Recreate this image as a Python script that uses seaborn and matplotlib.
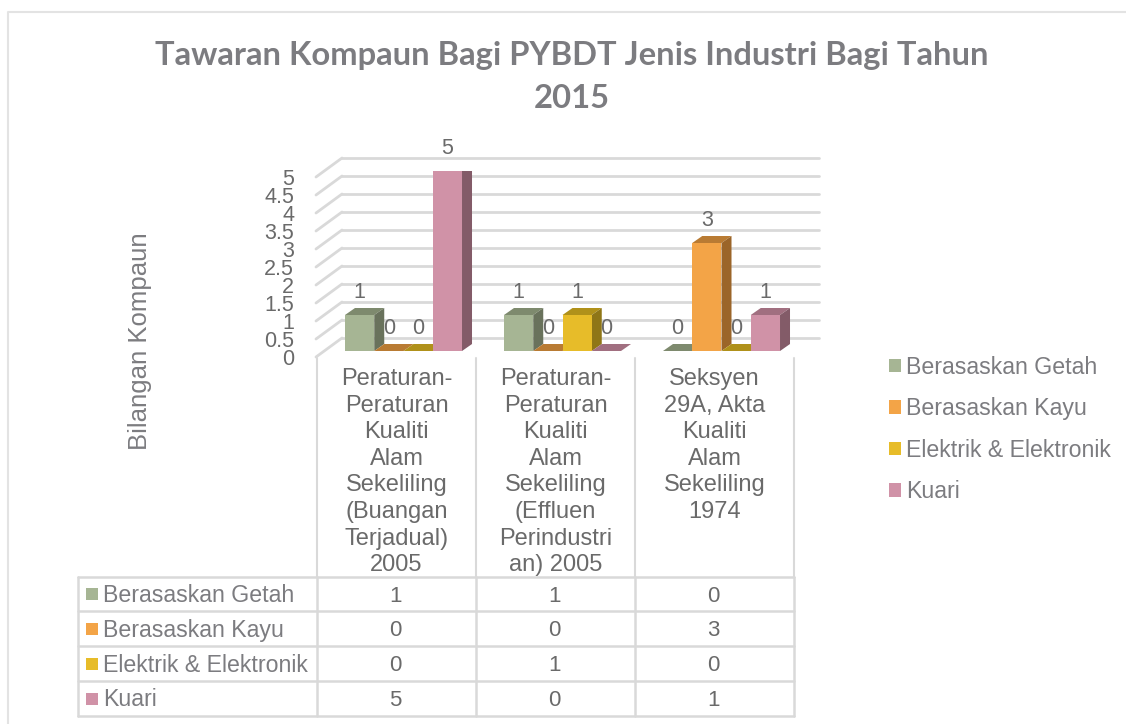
import numpy as np
import pandas as pd
import matplotlib
matplotlib.use("Agg")
import matplotlib.pyplot as plt
import seaborn as sns
from matplotlib.patches import Patch, Polygon, Rectangle

title = "Tawaran Kompaun Bagi PYBDT Jenis Industri Bagi Tahun\n2015"
ylabel = "Bilangan Kompaun"

categories = [
    "Peraturan-\nPeraturan\nKualiti\nAlam\nSekeliling\n(Buangan\nTerjadual)\n2005",
    "Peraturan-\nPeraturan\nKualiti\nAlam\nSekeliling\n(Effluen\nPerindustri\nan) 2005",
    "Seksyen\n29A, Akta\nKualiti\nAlam\nSekeliling\n1974",
]
series = ["Berasaskan Getah", "Berasaskan Kayu", "Elektrik & Elektronik", "Kuari"]
getah = [1, 1, 0]
kayu = [0, 0, 3]
elektrik = [0, 1, 0]
kuari = [5, 0, 1]
yticks = [0, 0.5, 1, 1.5, 2, 2.5, 3, 3.5, 4, 4.5, 5]

front_cols = ["#A6B594", "#F3A447", "#E7BC29", "#D092A7"]
side_cols = ["#69725C", "#9B6529", "#8F7617", "#835B68"]
top_cols = ["#7E8A6E", "#B97B33", "#B0911A", "#A16F80"]

W, H = 1126, 724
GRID = "#D9D9D9"
TXT = "#7C7C80"
TICK = "#6A6A6A"

sns.set_theme(style="white")
plt.rcParams["font.family"] = ["Liberation Sans", "DejaVu Sans"]

values = [getah, kayu, elektrik, kuari]
df = pd.DataFrame({
    "kategori": categories * 4,
    "siri": np.repeat(series, 3),
    "kompaun": np.concatenate(values),
})

fig = plt.figure(figsize=(W / 100, H / 100), dpi=100, facecolor="white")


def axes_px(x0, y_top, x1, y_bot, **kw):
    return fig.add_axes([x0 / W, 1 - y_bot / H, (x1 - x0) / W, (y_bot - y_top) / H], **kw)


def to_px(ax, x, y):
    p = ax.transData.transform((x, y))
    return p[0], H - p[1]


# page layer in pixel coords: frame, slanted grid, table
bg = fig.add_axes([0, 0, 1, 1], zorder=0)
bg.set_xlim(0, W)
bg.set_ylim(H, 0)
bg.axis("off")
bg.plot([8, 8, W], [H, 12, 12], color="#E3E3E3", lw=1.5)

# front plane, holds the axis text
front = axes_px(317, 177, 794, 357, zorder=1)
front.patch.set_visible(False)
front.set_xlim(-0.5, 2.5)
front.set_ylim(0, 5)
sns.despine(ax=front, left=True, bottom=True, top=True, right=True)
front.set_yticks(yticks)
front.set_yticklabels([f"{t:g}" for t in yticks], fontsize=15.5, color=TICK)
front.set_xticks(range(len(categories)))
front.set_xticklabels(categories, fontsize=17, color=TICK, linespacing=1.27, va="top")
front.tick_params(axis="y", length=0, pad=16.5)
front.tick_params(axis="x", length=0, pad=8)
front.set_ylabel(ylabel, fontsize=18.5, color=TXT)
front.yaxis.set_label_coords((152 - 317) / 477, 0.089, transform=front.transAxes)

# back wall gridlines
back = axes_px(342, 158, 819, 338, zorder=1)
back.patch.set_visible(False)
back.set_xlim(-0.5, 2.5)
back.set_ylim(0, 5)
back.set_xticks([])
back.set_yticks(yticks)
back.set_yticklabels([])
back.tick_params(length=0)
sns.despine(ax=back, left=True, bottom=True, top=True, right=True)
back.grid(axis="y", color=GRID, lw=2, clip_on=False)
back.set_axisbelow(True)

# slanted floor/side lines
for t in yticks:
    x0, y0 = to_px(front, -0.5, t)
    x1, y1 = to_px(back, -0.5, t)
    bg.plot([x0 - 1, x1], [y0, y1], color=GRID, lw=2, solid_capstyle="round")

# bars
ax = axes_px(324, 171, 801, 351, zorder=2)
ax.patch.set_visible(False)
sns.barplot(data=df, x="kategori", y="kompaun", hue="siri", order=categories,
            hue_order=series, palette=front_cols, saturation=1, width=0.736,
            gap=0, legend=False, ax=ax)
ax.set_xlim(-0.5, 2.5)
ax.set_ylim(0, 5)
ax.axis("off")

DX, DY = 10, 7
for i, cont in enumerate(ax.containers):
    for b in cont:
        x, w, h = b.get_x(), b.get_width(), b.get_height()
        xl, yb = to_px(ax, x, 0)
        xr, yt = to_px(ax, x + w, h)
        order = 3 + x
        b.set_zorder(order + 0.2)
        b.set_edgecolor("none")
        ax.add_patch(Polygon(
            [(xl, H - yt), (xr, H - yt), (xr + DX, H - yt + DY), (xl + DX, H - yt + DY)],
            closed=True, transform=None, fc=top_cols[i], ec="none", zorder=order + 0.1))
        if h > 0:
            ax.add_patch(Polygon(
                [(xr, H - yt), (xr + DX, H - yt + DY), (xr + DX, H - yb + DY), (xr, H - yb)],
                closed=True, transform=None, fc=side_cols[i], ec="none", zorder=order + 0.1))
    ax.bar_label(cont, fmt="%g", padding=8.5, fontsize=15.5, color=TICK, zorder=20)

# category separators
for xs in [317, 476, 635, 794]:
    bg.plot([xs, xs], [358, 577], color=GRID, lw=1.5)

# data table
rows = [577, 611, 646, 681, 716]
cols = [78, 317, 476, 635, 794]
for r in rows:
    bg.plot([cols[0], cols[-1]], [r, r], color=GRID, lw=1.8)
for c in cols:
    bg.plot([c, c], [rows[0], rows[-1]], color=GRID, lw=1.8)
for i, name in enumerate(series):
    ymid = (rows[i] + rows[i + 1]) / 2
    bg.add_patch(Rectangle((86, ymid - 6), 12, 12, fc=front_cols[i], ec="none"))
    bg.text(103, ymid + 1.5, name, fontsize=16.7, color=TXT, va="center", ha="left")
    for j in range(3):
        bg.text((cols[j + 1] + cols[j + 2]) / 2 - 1, ymid + 2, str(values[i][j]),
                fontsize=16, color=TICK, va="center", ha="center")

# legend
handles = [Patch(fc=c, ec="none") for c in front_cols]
fig.legend(handles, series, loc="upper left", bbox_to_anchor=(889 / W, 1 - 355.5 / H),
           frameon=False, fontsize=16.7, labelcolor=TXT, handlelength=0.52, handleheight=0.52,
           handletextpad=0.2, labelspacing=0.8, borderaxespad=0, borderpad=0)

fig.text(572 / W, 1 - 77 / H, title, ha="center", va="center", fontsize=23.6,
         fontweight="bold", color=TXT, family="Lato", linespacing=1.55)

fig.savefig("out.png", dpi=100)
